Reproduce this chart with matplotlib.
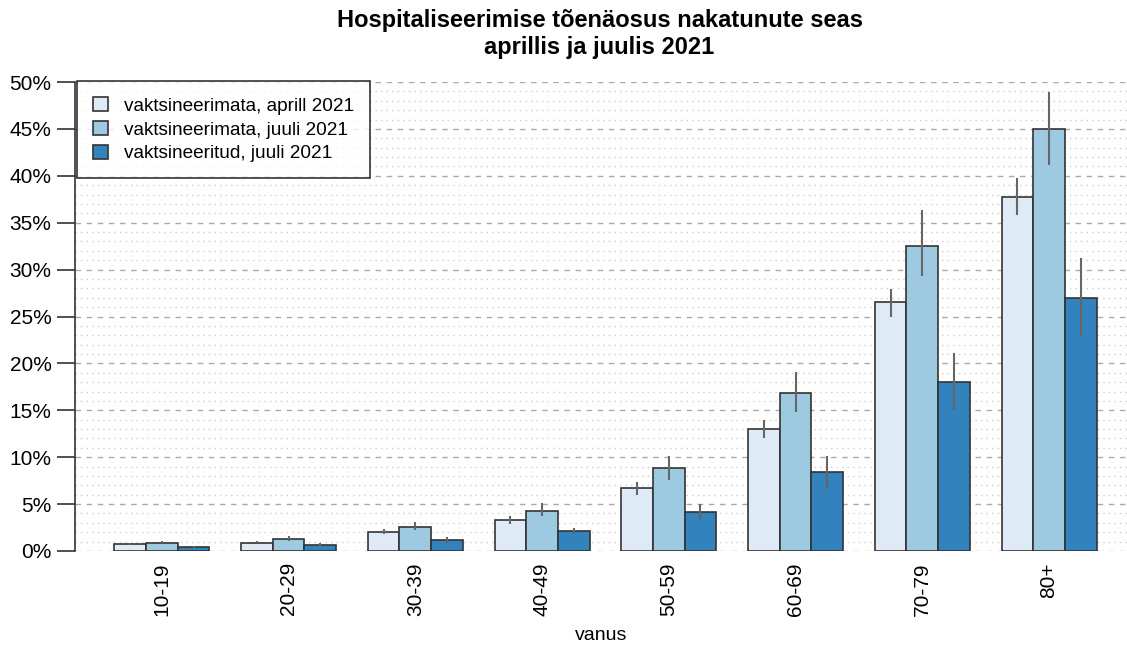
import numpy as np
import matplotlib
matplotlib.use("Agg")
import matplotlib.pyplot as plt
from matplotlib.patches import Patch

plt.rcParams["font.family"] = ["Liberation Sans", "DejaVu Sans"]

vanus = ["10-19", "20-29", "30-39", "40-49", "50-59", "60-69", "70-79", "80+"]
seeria = ["vaktsineerimata, aprill 2021", "vaktsineerimata, juuli 2021", "vaktsineeritud, juuli 2021"]

# hinnangud (%), alumine ja ülemine piir
apr_vakts_ei = [0.7, 0.9, 2.0, 3.3, 6.7, 13.0, 26.5, 37.7]
apr_lo = [0.6, 0.8, 1.8, 2.9, 6.0, 12.0, 24.9, 35.8]
apr_hi = [0.8, 1.1, 2.3, 3.7, 7.4, 14.0, 27.9, 39.8]

jul_vakts_ei = [0.9, 1.3, 2.6, 4.3, 8.8, 16.8, 32.5, 45.0]
jul_lo = [0.8, 1.1, 2.2, 3.7, 7.6, 14.8, 29.3, 41.2]
jul_hi = [1.1, 1.6, 3.1, 5.1, 10.1, 19.1, 36.4, 48.9]

jul_vakts = [0.4, 0.6, 1.2, 2.1, 4.2, 8.4, 18.0, 27.0]
jv_lo = [0.3, 0.5, 0.9, 1.8, 3.3, 6.7, 15.0, 22.9]
jv_hi = [0.5, 0.8, 1.5, 2.5, 5.0, 10.1, 21.1, 31.2]

varvid = ["#deebf7", "#9ecae1", "#3182bd"]

fig = plt.figure(figsize=(11.27, 6.46), dpi=100)
ax = fig.add_axes([75/1127, 95/646, 1 - 75/1127, 469/646])

n = len(vanus)
grupp = 1 + 4*np.arange(n)
koik = [(apr_vakts_ei, apr_lo, apr_hi), (jul_vakts_ei, jul_lo, jul_hi), (jul_vakts, jv_lo, jv_hi)]

# võrgustik
for y in range(0, 51):
    if y % 5 == 0:
        ax.axhline(y, color="#aaaaaa", lw=1, ls=(0, (4, 4)), zorder=0)
    else:
        ax.axhline(y, color="#cccccc", lw=1, ls=(0, (1, 3)), zorder=0)

for j, (v, lo, hi) in enumerate(koik):
    x = grupp + j + 0.5
    ax.bar(x, v, width=1, color=varvid[j], edgecolor="#333333", linewidth=1.2, zorder=2)
    ax.vlines(x, lo, hi, color="#666666", lw=1.5, zorder=3)

ax.set_xlim(-0.24, 32.96)
ax.set_ylim(0, 50)
ax.set_xticks(grupp + 1.5)
ax.set_xticklabels(vanus, rotation=90, fontsize=15)
ax.tick_params(axis="x", length=0, pad=8)
ax.set_yticks(np.arange(0, 51, 5))
ax.set_yticklabels([f"{t}%" for t in range(0, 51, 5)], fontsize=15)
ax.tick_params(axis="y", length=13, width=1.2, color="#333333", pad=4)
for s in ["top", "right", "bottom"]:
    ax.spines[s].set_visible(False)
ax.spines["left"].set_color("#333333")
ax.spines["left"].set_linewidth(1.2)

ax.set_xlabel("vanus", fontsize=14, labelpad=8)
fig.text(0.532, 1 - 34/646, "Hospitaliseerimise tõenäosus nakatunute seas\naprillis ja juulis 2021",
         fontsize=17, fontweight="bold", ha="center", va="center", linespacing=1.2)

kastid = [Patch(facecolor=varvid[j], edgecolor="#333333", linewidth=1.2, label=seeria[j]) for j in range(3)]
leg = ax.legend(handles=kastid, loc="upper left", bbox_to_anchor=(0.002, 1.002), fontsize=13.7,
                frameon=True, fancybox=False, edgecolor="black", handlelength=0.75, handleheight=0.75,
                handletextpad=0.85, borderpad=0.85, labelspacing=0.32, borderaxespad=0)
leg.get_frame().set_linewidth(1.2)
leg.set_zorder(5)

fig.savefig("out.png", dpi=100)
